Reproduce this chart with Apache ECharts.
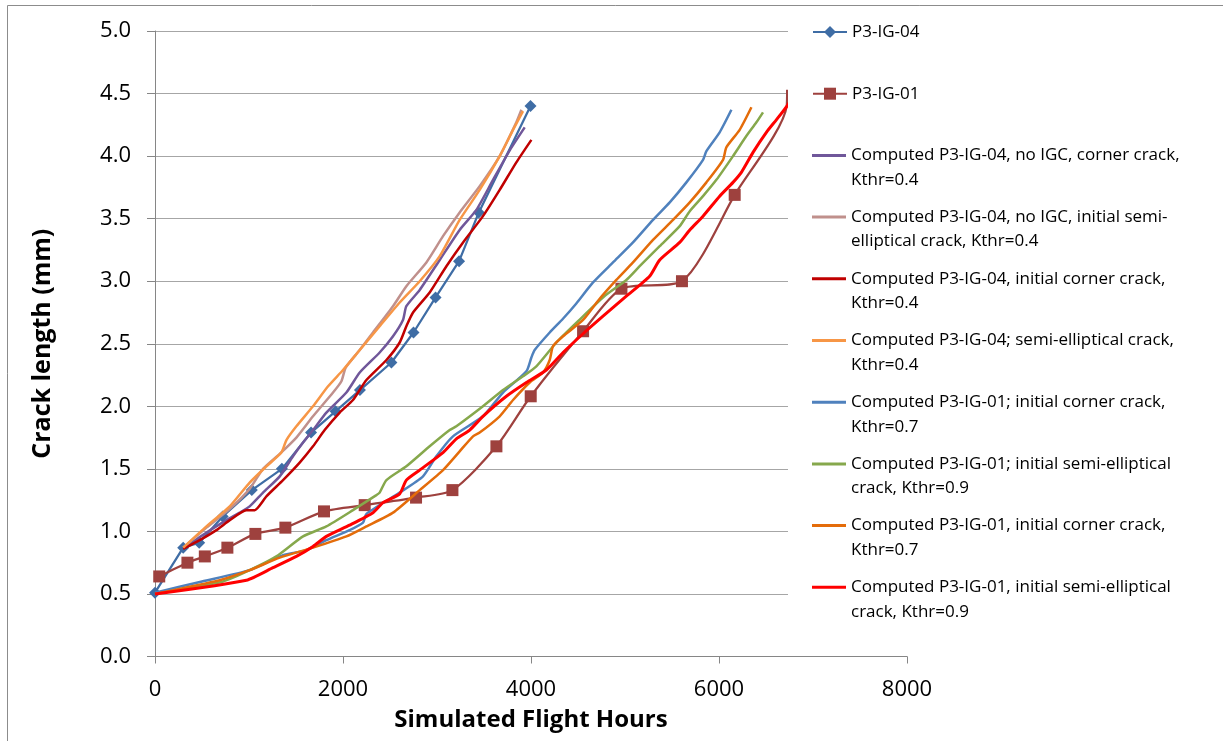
<!DOCTYPE html>
<html><head><meta charset="utf-8">
<script src="https://cdn.jsdelivr.net/npm/echarts@6/dist/echarts.min.js"></script>
<style>html,body{margin:0;padding:0;background:#fff}#c{width:1223px;height:741px}</style>
</head><body><div id="c"></div>
<script>
// ---- data (flight hours, crack length mm) ----
const expIG04 = [[0,0.51],[300,0.87],[470,0.91],[720,1.12],[1030,1.33],[1350,1.50],[1660,1.79],[1920,1.96],[2180,2.13],[2515,2.35],[2750,2.59],[2985,2.87],[3235,3.16],[3445,3.55],[3995,4.40]];
const expIG01 = [[45,0.64],[345,0.75],[530,0.80],[770,0.87],[1068,0.98],[1387,1.03],[1798,1.16],[2231,1.21],[2777,1.27],[3164,1.33],[3632,1.68],[3997,2.08],[4554,2.60],[4962,2.94],[5606,3.00],[6167,3.69],[6720,4.40],[6725,4.53]];
const ig04NoIgcCorner = [[300,0.87],[334,0.88],[547,0.99],[760,1.09],[901,1.15],[1007,1.20],[1149,1.31],[1327,1.44],[1468,1.60],[1575,1.71],[1681,1.81],[1823,1.95],[2036,2.11],[2178,2.27],[2390,2.43],[2532,2.56],[2638,2.69],[2674,2.80],[2816,2.93],[3029,3.17],[3241,3.41],[3419,3.57],[3596,3.81],[3777,4.05],[3933,4.23]];
const ig04NoIgcSemi = [[300,0.87],[547,1.03],[795,1.18],[1007,1.34],[1149,1.50],[1327,1.62],[1504,1.75],[1681,1.92],[1894,2.11],[1983,2.20],[2029,2.31],[2178,2.45],[2319,2.59],[2532,2.80],[2674,2.96],[2887,3.15],[3064,3.36],[3241,3.55],[3454,3.76],[3667,4.00],[3844,4.27],[3898,4.37]];
const ig04Corner = [[300,0.86],[476,0.93],[653,1.01],[795,1.09],[972,1.17],[1061,1.17],[1185,1.28],[1362,1.41],[1539,1.55],[1681,1.68],[1805,1.81],[1965,1.95],[2106,2.05],[2249,2.21],[2462,2.37],[2603,2.51],[2674,2.64],[2745,2.75],[2922,2.91],[3100,3.12],[3277,3.31],[3489,3.52],[3667,3.73],[3844,3.95],[4004,4.13]];
const ig04Semi = [[300,0.87],[547,1.04],[795,1.20],[1007,1.39],[1185,1.52],[1344,1.63],[1398,1.73],[1504,1.84],[1681,2.00],[1841,2.16],[2000,2.29],[2178,2.45],[2390,2.64],[2603,2.83],[2816,3.00],[3029,3.20],[3241,3.49],[3454,3.73],[3667,4.00],[3809,4.21],[3915,4.36]];
const ig01Corner07 = [[0,0.51],[500,0.60],[1007,0.69],[1362,0.81],[1610,0.85],[1823,0.93],[2070,1.01],[2213,1.07],[2249,1.14],[2603,1.31],[2851,1.44],[2993,1.60],[3170,1.76],[3489,1.92],[3702,2.11],[3951,2.28],[4004,2.39],[4039,2.45],[4199,2.59],[4340,2.70],[4480,2.82],[4660,2.99],[4872,3.15],[5085,3.31],[5298,3.49],[5476,3.63],[5653,3.79],[5830,3.97],[5866,4.04],[6007,4.19],[6132,4.37]];
const ig01Semi09g = [[0,0.50],[723,0.60],[1007,0.69],[1291,0.80],[1575,0.96],[1823,1.04],[2106,1.17],[2355,1.29],[2390,1.31],[2462,1.41],[2674,1.52],[2922,1.68],[3135,1.81],[3206,1.84],[3489,2.00],[3702,2.13],[3915,2.24],[4057,2.32],[4270,2.51],[4500,2.68],[4780,2.88],[5014,3.01],[5156,3.12],[5369,3.28],[5582,3.44],[5689,3.56],[5830,3.68],[5972,3.81],[6149,4.00],[6291,4.16],[6398,4.27],[6468,4.35]];
const ig01Corner07o = [[0,0.50],[688,0.61],[1007,0.69],[1327,0.79],[1681,0.87],[2036,0.96],[2249,1.04],[2532,1.15],[2816,1.33],[3064,1.49],[3241,1.64],[3383,1.76],[3454,1.79],[3667,1.92],[3809,2.05],[3986,2.19],[4128,2.27],[4199,2.37],[4234,2.48],[4341,2.56],[4554,2.69],[4720,2.85],[4908,3.01],[5085,3.15],[5298,3.33],[5511,3.49],[5689,3.63],[5866,3.79],[6043,3.97],[6078,4.07],[6220,4.21],[6345,4.39]];
const ig01Semi09r = [[0,0.50],[972,0.61],[1255,0.71],[1504,0.80],[1681,0.88],[1823,0.96],[2070,1.05],[2319,1.15],[2426,1.23],[2603,1.30],[2674,1.41],[2816,1.49],[3064,1.63],[3206,1.74],[3348,1.81],[3489,1.92],[3738,2.08],[3951,2.19],[4163,2.29],[4341,2.43],[4554,2.58],[4766,2.72],[5014,2.88],[5262,3.04],[5369,3.17],[5582,3.31],[5689,3.41],[5830,3.52],[6007,3.68],[6149,3.79],[6238,3.87],[6362,4.03],[6504,4.19],[6610,4.29],[6723,4.40],[6850,4.55]];

const seriesNames = [
  'P3-IG-04',
  'P3-IG-01',
  'Computed P3-IG-04, no IGC, corner crack, Kthr=0.4',
  'Computed P3-IG-04, no IGC, initial semi-elliptical crack, Kthr=0.4',
  'Computed P3-IG-04, initial corner crack, Kthr=0.4',
  'Computed P3-IG-04; semi-elliptical crack, Kthr=0.4',
  'Computed P3-IG-01; initial corner crack, Kthr=0.7',
  'Computed P3-IG-01; initial semi-elliptical crack, Kthr=0.9',
  'Computed P3-IG-01, initial corner crack, Kthr=0.7',
  'Computed P3-IG-01, initial semi-elliptical crack, Kthr=0.9'
];
const legendLines = [
  ['P3-IG-04'],
  ['P3-IG-01'],
  ['Computed P3-IG-04, no IGC, corner crack,','Kthr=0.4'],
  ['Computed P3-IG-04, no IGC, initial semi-','elliptical crack, Kthr=0.4'],
  ['Computed P3-IG-04, initial corner crack,','Kthr=0.4'],
  ['Computed P3-IG-04; semi-elliptical crack,','Kthr=0.4'],
  ['Computed P3-IG-01; initial corner crack,','Kthr=0.7'],
  ['Computed P3-IG-01; initial semi-elliptical','crack, Kthr=0.9'],
  ['Computed P3-IG-01, initial corner crack,','Kthr=0.7'],
  ['Computed P3-IG-01, initial semi-elliptical','crack, Kthr=0.9']
];
const seriesData = [expIG04, expIG01, ig04NoIgcCorner, ig04NoIgcSemi, ig04Corner, ig04Semi, ig01Corner07, ig01Semi09g, ig01Corner07o, ig01Semi09r];

// ---- styles ----
const colors = ['#3F6DA5','#9E413E','#70579A','#C0908C','#C00000','#F79646','#4F81BD','#86A84C','#E46C0A','#FF0000'];
const widths = [2.25,2.25,2.5,2.5,2.5,2.5,2.5,2.5,2.5,3];
const FONT = 'Open Sans';
const LH = 24.5;
const legendTop0 = 32, legendStep = 61.7;

const series = seriesData.map((d, i) => {
  const s = {
    name: seriesNames[i], type: 'line', data: d,
    lineStyle: {color: colors[i], width: widths[i]},
    itemStyle: {color: colors[i]},
    emphasis: {disabled: true},
    z: 2 + i * 0.01
  };
  if (i === 0) { s.symbol = 'diamond'; s.symbolSize = 12; s.smooth = false; }
  else if (i === 1) {
    s.symbol = 'rect'; s.symbolSize = 12; s.smooth = 0.25;
    s.data = d.map((p, k) => k >= d.length - 2 ? {value: p, symbol: 'none'} : p);
  }
  else { s.symbol = 'none'; s.smooth = 0.2; }
  return s;
});

const legends = seriesNames.map((n, i) => {
  const lines = legendLines[i];
  const c = legendTop0 + legendStep * i;
  const top = lines.length > 1 ? c - 1.5 * LH : c - 0.5 * LH;
  const lg = {
    data: [n], orient: 'vertical', left: 812, top: top, padding: 0,
    itemWidth: 34, itemHeight: i < 2 ? 15 : 3, selectedMode: false, z: 10,
    textStyle: {fontFamily: FONT, fontSize: 17, lineHeight: LH, color: '#000'},
    formatter: () => lines.length > 1 ? '\u00a0\n' + lines.join('\n') : lines[0]
  };
  if (i >= 2) lg.icon = 'rect';
  return lg;
});

const chart = echarts.init(document.getElementById('c'), null, {renderer: 'canvas'});
chart.setOption({
  animation: false,
  backgroundColor: '#fff',
  grid: {left: 155, right: 316, top: 31, bottom: 84.5, containLabel: false},
  xAxis: {
    type: 'value', min: 0, max: 8000, interval: 2000,
    name: 'Simulated Flight Hours', nameLocation: 'middle', nameGap: 52,
    nameTextStyle: {fontFamily: FONT, fontSize: 24, fontWeight: 'bold', color: '#000'},
    axisLine: {show: true, lineStyle: {color: '#868686', width: 1}},
    axisTick: {show: true, length: 7, lineStyle: {color: '#868686'}},
    splitLine: {show: false},
    axisLabel: {fontFamily: FONT, fontSize: 22, color: '#000', margin: 22, formatter: v => String(v)}
  },
  yAxis: {
    type: 'value', min: 0, max: 5, interval: 0.5,
    name: 'Crack length (mm)', nameLocation: 'middle', nameGap: 100, nameRotate: 90,
    nameTextStyle: {fontFamily: FONT, fontSize: 25, fontWeight: 'bold', color: '#000'},
    axisLine: {show: true, lineStyle: {color: '#868686', width: 1}},
    axisTick: {show: true, length: 8, lineStyle: {color: '#868686'}},
    splitLine: {show: true, lineStyle: {color: '#A6A6A6', width: 1}},
    axisLabel: {fontFamily: FONT, fontSize: 22, color: '#000', margin: 24, formatter: v => v.toFixed(1)}
  },
  legend: legends,
  graphic: [
    {type: 'rect', silent: true, z: 0, shape: {x: 7.5, y: 5.5, width: 1300, height: 800}, style: {fill: 'none', stroke: '#8C8C8C', lineWidth: 1}},
    {type: 'rect', silent: true, z: 5, shape: {x: 788, y: 8, width: 434, height: 622}, style: {fill: '#fff'}}
  ],
  series: series
});
</script></body></html>
